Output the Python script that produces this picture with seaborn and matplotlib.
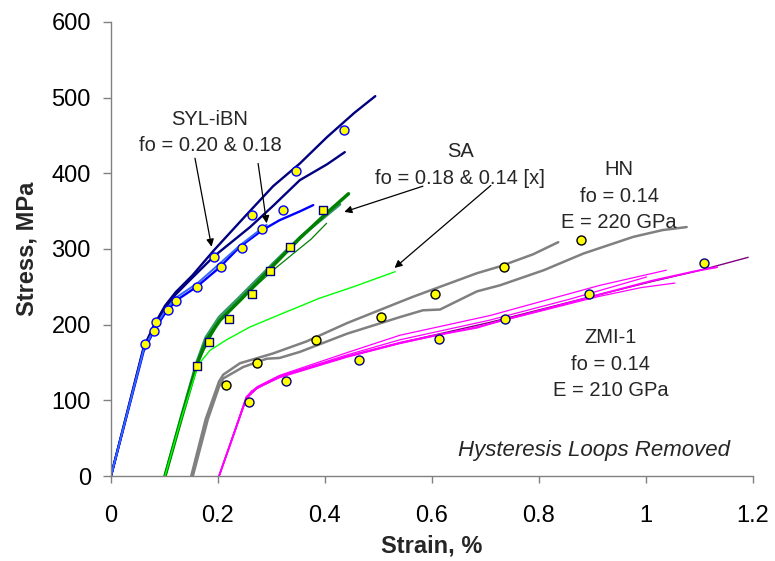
import matplotlib
matplotlib.use("Agg")
import matplotlib.pyplot as plt
import seaborn as sns

sns.set_style("white")
plt.rcParams['font.family'] = ['Liberation Sans', 'DejaVu Sans']

# ---- SYL-iBN curves (strain %, stress MPa)
syl_top_x = [0, 0.061, 0.081, 0.101, 0.121, 0.152, 0.192, 0.253, 0.303, 0.353, 0.404, 0.455, 0.494]
syl_top_y = [0, 170, 200, 225, 243, 265, 298, 345, 383, 413, 448, 480, 502]
syl_mid_x = [0, 0.061, 0.081, 0.101, 0.121, 0.152, 0.192, 0.260, 0.303, 0.353, 0.404, 0.437]
syl_mid_y = [0, 168, 198, 222, 240, 262, 290, 329, 357, 391, 412, 428]
syl_blue_x = [0, 0.061, 0.081, 0.101, 0.122, 0.160, 0.202, 0.241, 0.283, 0.315, 0.354, 0.378]
syl_blue_y = [0, 165, 193, 215, 232, 250, 275, 303, 325, 338, 350, 358]
syl_light_x = [0, 0.061, 0.081, 0.101, 0.122, 0.162, 0.202, 0.243, 0.291]
syl_light_y = [0, 167, 195, 218, 236, 255, 280, 306, 332]
syl_pts_x = [0.064, 0.081, 0.085, 0.107, 0.121, 0.160, 0.192, 0.205, 0.244, 0.263, 0.283, 0.321, 0.346, 0.436]
syl_pts_y = [174, 191, 203, 219, 231, 250, 289, 276, 301, 345, 326, 351, 403, 457]

# ---- SA curves
sa_dark_x = [0.101, 0.131, 0.162, 0.179, 0.204, 0.241, 0.273, 0.303, 0.354, 0.404, 0.444]
sa_dark_y = [0, 75, 150, 180, 206, 232, 255, 278, 315, 348, 373]
sa_sea_x = [0.101, 0.131, 0.160, 0.177, 0.202, 0.241, 0.303, 0.354, 0.404, 0.428]
sa_sea_y = [0, 78, 150, 183, 210, 237, 281, 316, 345, 359]
sa_thin_x = [0.101, 0.162, 0.202, 0.253, 0.303, 0.334, 0.374, 0.403]
sa_thin_y = [0, 150, 205, 240, 272, 290, 313, 334]
sa_lime_x = [0.101, 0.131, 0.163, 0.185, 0.216, 0.260, 0.328, 0.390, 0.453, 0.531]
sa_lime_y = [0, 75, 147, 166, 180, 197, 217, 235, 250, 270]
sa_pts_x = [0.160, 0.184, 0.221, 0.263, 0.298, 0.335, 0.396]
sa_pts_y = [146, 177, 208, 240, 271, 302, 351]

# ---- HN curves
hn_a_x = [0.150, 0.177, 0.202, 0.210, 0.241, 0.303, 0.366, 0.441, 0.540, 0.565, 0.684, 0.727, 0.789, 0.836]
hn_a_y = [0, 75, 125, 134, 149, 162, 178, 202, 230, 237, 268, 277, 293, 309]
hn_b_x = [0.153, 0.181, 0.202, 0.210, 0.247, 0.291, 0.315, 0.353, 0.441, 0.540, 0.583, 0.615, 0.684,
          0.727, 0.809, 0.883, 0.976, 1.031, 1.076]
hn_b_y = [0, 75, 118, 129, 144, 155, 156, 164, 188, 210, 219, 220, 244, 252, 272, 294, 316, 325, 329]
hn_pts_x = [0.215, 0.272, 0.384, 0.505, 0.606, 0.734, 0.879]
hn_pts_y = [120, 150, 180, 210, 240, 276, 312]

# ---- ZMI-1 curves
zmi_main_x = [0.202, 0.227, 0.253, 0.263, 0.283, 0.315, 0.354, 0.441, 0.540, 0.607, 0.684, 0.727, 0.809,
              0.914, 1.011, 1.101, 1.133]
zmi_main_y = [0, 50, 103, 112, 120, 131, 140, 158, 176, 186, 196, 205, 220, 240, 258, 272, 276]
zmi_up_x = [0.202, 0.253, 0.273, 0.315, 0.441, 0.540, 0.708, 0.914, 1.038]
zmi_up_y = [0, 105, 118, 133, 163, 186, 212, 252, 272]
zmi_mid_x = [0.202, 0.253, 0.273, 0.315, 0.441, 0.540, 0.708, 0.859, 1.001]
zmi_mid_y = [0, 104, 117, 132, 160, 180, 206, 234, 263]
zmi_low_x = [0.202, 0.253, 0.273, 0.315, 0.441, 0.540, 0.708, 0.910, 0.991, 1.054]
zmi_low_y = [0, 102, 116, 130, 157, 175, 201, 237, 249, 255]
zmi_purple_x = [0.202, 0.253, 0.273, 0.315, 0.441, 0.540, 0.708, 0.914, 1.011, 1.102, 1.191]
zmi_purple_y = [0, 103, 116, 131, 158, 176, 203, 240, 257, 272, 289]
zmi_pts_x = [0.258, 0.327, 0.463, 0.613, 0.736, 0.893, 1.108]
zmi_pts_y = [98, 125, 153, 181, 208, 241, 281]

x_ticks = [0, 0.2, 0.4, 0.6, 0.8, 1.0, 1.2]
x_ticklabels = ['0', '0.2', '0.4', '0.6', '0.8', '1', '1.2']
y_ticks = [0, 100, 200, 300, 400, 500, 600]

fig = plt.figure(figsize=(7.75, 5.61), dpi=100)
ax = fig.add_axes([0.1432, 0.1515, 0.8284, 0.8093])


def curve(x, y, color, lw):
    sns.lineplot(x=x, y=y, sort=False, estimator=None, color=color, linewidth=lw, ax=ax)


curve(syl_top_x, syl_top_y, '#000080', 1.7)
curve(syl_mid_x, syl_mid_y, '#000080', 1.7)
curve(syl_blue_x, syl_blue_y, '#0000FF', 1.7)
curve(syl_light_x, syl_light_y, '#3366FF', 1.4)

curve(sa_thin_x, sa_thin_y, '#008000', 0.9)
curve(sa_sea_x, sa_sea_y, '#339966', 2.0)
curve(sa_dark_x, sa_dark_y, '#008000', 2.5)
curve(sa_lime_x, sa_lime_y, '#00FF00', 1.0)

curve(hn_a_x, hn_a_y, '#808080', 1.8)
curve(hn_b_x, hn_b_y, '#808080', 1.8)

curve(zmi_purple_x, zmi_purple_y, '#800080', 1.0)
curve(zmi_main_x, zmi_main_y, '#FF00FF', 1.4)
curve(zmi_up_x, zmi_up_y, '#FF00FF', 0.9)
curve(zmi_mid_x, zmi_mid_y, '#FF00FF', 0.9)
curve(zmi_low_x, zmi_low_y, '#FF00FF', 0.9)

sns.scatterplot(x=syl_pts_x, y=syl_pts_y, marker='o', s=42, color='#FFFF00',
                edgecolor='#0000FF', linewidth=1, ax=ax, zorder=5)
sns.scatterplot(x=sa_pts_x, y=sa_pts_y, marker='s', s=40, color='#FFFF00',
                edgecolor='#000080', linewidth=1, ax=ax, zorder=5)
sns.scatterplot(x=hn_pts_x, y=hn_pts_y, marker='o', s=42, color='#FFFF00',
                edgecolor='#000000', linewidth=1, ax=ax, zorder=5)
sns.scatterplot(x=zmi_pts_x, y=zmi_pts_y, marker='o', s=42, color='#FFFF00',
                edgecolor='#000080', linewidth=1, ax=ax, zorder=5)

# annotations
txt = dict(fontsize=14.5, ha='center', va='center', linespacing=1.5)
arrow = dict(arrowstyle='-|>', color='black', lw=0.9, mutation_scale=11, shrinkA=0, shrinkB=0)

ax.text(0.185, 454, 'SYL-iBN\nfo = 0.20 & 0.18', **txt)
ax.annotate('', xy=(0.188, 303), xytext=(0.157, 420), arrowprops=arrow)
ax.annotate('', xy=(0.291, 334), xytext=(0.275, 413), arrowprops=arrow)

ax.text(0.653, 411, 'SA\nfo = 0.18 & 0.14 [x]', **txt)
ax.annotate('', xy=(0.436, 349), xytext=(0.583, 383), arrowprops=arrow)
ax.annotate('', xy=(0.530, 275), xytext=(0.710, 384), arrowprops=arrow)

ax.text(0.950, 370, 'HN\nfo = 0.14\nE = 220 GPa', **txt)
ax.text(0.934, 148, 'ZMI-1\nfo = 0.14\nE = 210 GPa', **txt)
ax.text(0.902, 34, 'Hysteresis Loops Removed', fontsize=16, style='italic',
        ha='center', va='center')

ax.set_xlim(0, 1.2)
ax.set_ylim(0, 600)
ax.set_xticks(x_ticks)
ax.set_xticklabels(x_ticklabels)
ax.set_yticks(y_ticks)
ax.tick_params(axis='both', labelsize=17, direction='out', width=1,
               color='#808080', labelcolor='black', bottom=True, left=True)
ax.tick_params(axis='x', length=5, pad=16)
ax.tick_params(axis='y', length=5.5, pad=9)
ax.set_xlabel('Strain, %', fontsize=17, fontweight='bold', labelpad=5)
ax.set_ylabel('Stress, MPa', fontsize=17, fontweight='bold', labelpad=9)
for side in ['top', 'right']:
    ax.spines[side].set_visible(False)
for side in ['left', 'bottom']:
    ax.spines[side].set_color('#808080')
    ax.spines[side].set_linewidth(1)
ax.grid(False)

plt.savefig('out.png', dpi=100)
